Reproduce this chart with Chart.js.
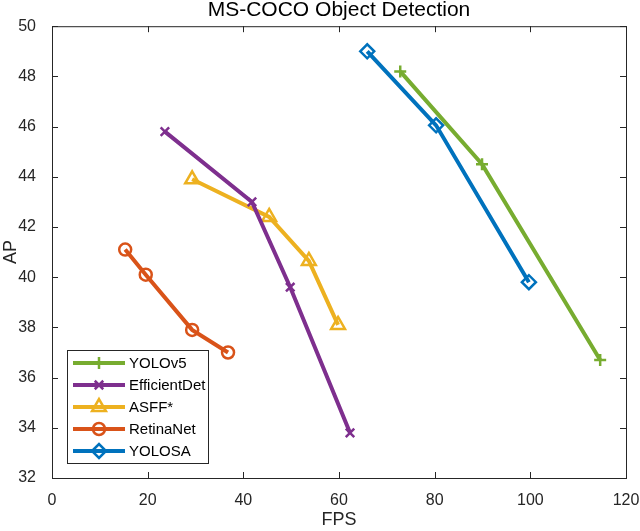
<!DOCTYPE html>
<html>
<head>
<meta charset="utf-8">
<script src="https://cdn.jsdelivr.net/npm/chart.js@4.4.0/dist/chart.umd.min.js"></script>
<style>
  html, body { margin: 0; padding: 0; background: #fff; }
  #wrap { width: 640px; height: 531px; }
</style>
</head>
<body>
<div id="wrap"><canvas id="chart"></canvas></div>
<script>
// values (FPS, AP)
const seriesNames = ['YOLOv5', 'EfficientDet', 'ASFF*', 'RetinaNet', 'YOLOSA']
const yolov5Fps = [72.8, 89.9, 114.6]
const yolov5Ap = [48.2, 44.5, 36.7]
const effdetFps = [23.6, 41.8, 49.8, 62.3]
const effdetAp = [45.8, 43.0, 39.6, 33.8]
const asffFps = [29.3, 45.4, 53.7, 59.8]
const asffAp = [43.9, 42.4, 40.65, 38.1]
const retinaFps = [15.3, 19.6, 29.3, 36.8]
const retinaAp = [41.1, 40.1, 37.9, 37.0]
const yolosaFps = [65.9, 80.3, 99.7]
const yolosaAp = [49.0, 46.05, 39.8]
const xTicks = [0, 20, 40, 60, 80, 100, 120]
const yTicks = [32, 34, 36, 38, 40, 42, 44, 46, 48, 50]

const FONT = "'Liberation Sans', Arial, sans-serif"
const AXIS_COLOR = '#262626'

function toPoints(xs, ys) {
  return xs.map((x, i) => ({ x: x, y: ys[i] }))
}

function makeSeries(label, xs, ys, color, style, radius) {
  return {
    label: label,
    data: toPoints(xs, ys),
    borderColor: color,
    backgroundColor: 'transparent',
    borderWidth: 4,
    pointStyle: style,
    pointRadius: radius,
    pointHoverRadius: radius,
    pointBorderColor: color,
    pointBackgroundColor: 'transparent',
    pointBorderWidth: 2.5,
    tension: 0,
  }
}

const datasets = [
  makeSeries(seriesNames[0], yolov5Fps, yolov5Ap, '#77AC30', 'cross', 6),
  makeSeries(seriesNames[1], effdetFps, effdetAp, '#7E2F8E', 'crossRot', 6),
  makeSeries(seriesNames[2], asffFps, asffAp, '#EDB120', 'triangle', 8),
  makeSeries(seriesNames[3], retinaFps, retinaAp, '#D95319', 'circle', 6),
  makeSeries(seriesNames[4], yolosaFps, yolosaAp, '#0072BD', 'rectRot', 7),
]

// box around the axes with inward ticks on all four sides (matlab look)
const framePlugin = {
  id: 'frame',
  beforeDatasetsDraw(chart) {
    const { ctx, chartArea: a, scales } = chart
    const len = 6
    ctx.save()
    ctx.strokeStyle = AXIS_COLOR
    ctx.lineWidth = 1
    ctx.strokeRect(a.left + 0.5, a.top + 0.5, a.right - a.left, a.bottom - a.top)
    ctx.beginPath()
    xTicks.forEach(v => {
      const px = Math.round(scales.x.getPixelForValue(v)) + 0.5
      ctx.moveTo(px, a.bottom); ctx.lineTo(px, a.bottom - len)
      ctx.moveTo(px, a.top); ctx.lineTo(px, a.top + len)
    })
    yTicks.forEach(v => {
      const py = Math.round(scales.y.getPixelForValue(v)) + 0.5
      ctx.moveTo(a.left, py); ctx.lineTo(a.left + len, py)
      ctx.moveTo(a.right, py); ctx.lineTo(a.right - len, py)
    })
    ctx.stroke()
    ctx.restore()
  },
}

// legend box in the lower left corner of the plot
const legendBoxPlugin = {
  id: 'legendBox',
  afterDraw(chart) {
    const ctx = chart.ctx
    const box = { left: 67, top: 350, width: 141, height: 113 }
    const rowH = 22
    ctx.save()
    ctx.fillStyle = '#fff'
    ctx.fillRect(box.left, box.top, box.width, box.height)
    ctx.strokeStyle = AXIS_COLOR
    ctx.lineWidth = 1
    ctx.strokeRect(box.left + 0.5, box.top + 0.5, box.width, box.height)
    chart.data.datasets.forEach((ds, i) => {
      const y = box.top + 13 + i * rowH
      ctx.strokeStyle = ds.borderColor
      ctx.lineWidth = ds.borderWidth
      ctx.beginPath()
      ctx.moveTo(box.left + 6, y)
      ctx.lineTo(box.left + 58, y)
      ctx.stroke()
      ctx.lineWidth = ds.pointBorderWidth
      ctx.strokeStyle = ds.pointBorderColor
      ctx.fillStyle = 'transparent'
      Chart.helpers.drawPoint(ctx, {
        pointStyle: ds.pointStyle,
        radius: ds.pointRadius,
        rotation: 0,
        borderWidth: ds.pointBorderWidth,
      }, box.left + 32, y)
      ctx.fillStyle = '#000'
      ctx.font = '15px ' + FONT
      ctx.textBaseline = 'middle'
      ctx.textAlign = 'left'
      ctx.fillText(ds.label, box.left + 62, y + 1)
    })
    ctx.restore()
  },
}

new Chart(document.getElementById('chart'), {
  type: 'line',
  data: { datasets: datasets },
  options: {
    responsive: true,
    maintainAspectRatio: false,
    animation: false,
    layout: { padding: { left: 0, right: 0, top: 0, bottom: 0 } },
    plugins: {
      legend: { display: false },
      tooltip: { enabled: false },
      title: {
        display: true,
        fullSize: false,
        text: 'MS-COCO Object Detection',
        color: '#000',
        font: { family: FONT, size: 21, weight: 'normal' },
        padding: { top: -2, bottom: 3 },
      },
    },
    scales: {
      x: {
        type: 'linear',
        min: 0,
        max: 120,
        afterBuildTicks: s => { s.ticks = xTicks.map(v => ({ value: v })) },
        afterFit: s => { s.height = 53; s.paddingLeft = 0; s.paddingRight = 14 },
        grid: { display: false },
        border: { display: false },
        ticks: { color: AXIS_COLOR, padding: 5, font: { family: FONT, size: 16 } },
        title: {
          display: true,
          text: 'FPS',
          color: AXIS_COLOR,
          font: { family: FONT, size: 18 },
          padding: { top: 0, bottom: 0 },
        },
      },
      y: {
        type: 'linear',
        min: 32,
        max: 50,
        afterBuildTicks: s => { s.ticks = yTicks.map(v => ({ value: v })) },
        afterFit: s => { s.width = 52 },
        grid: { display: false },
        border: { display: false },
        ticks: { color: AXIS_COLOR, padding: 8, font: { family: FONT, size: 16 } },
        title: {
          display: true,
          text: 'AP',
          color: AXIS_COLOR,
          font: { family: FONT, size: 18 },
          padding: { top: 0, bottom: 0 },
        },
      },
    },
  },
  plugins: [framePlugin, legendBoxPlugin],
})
</script>
</body>
</html>
